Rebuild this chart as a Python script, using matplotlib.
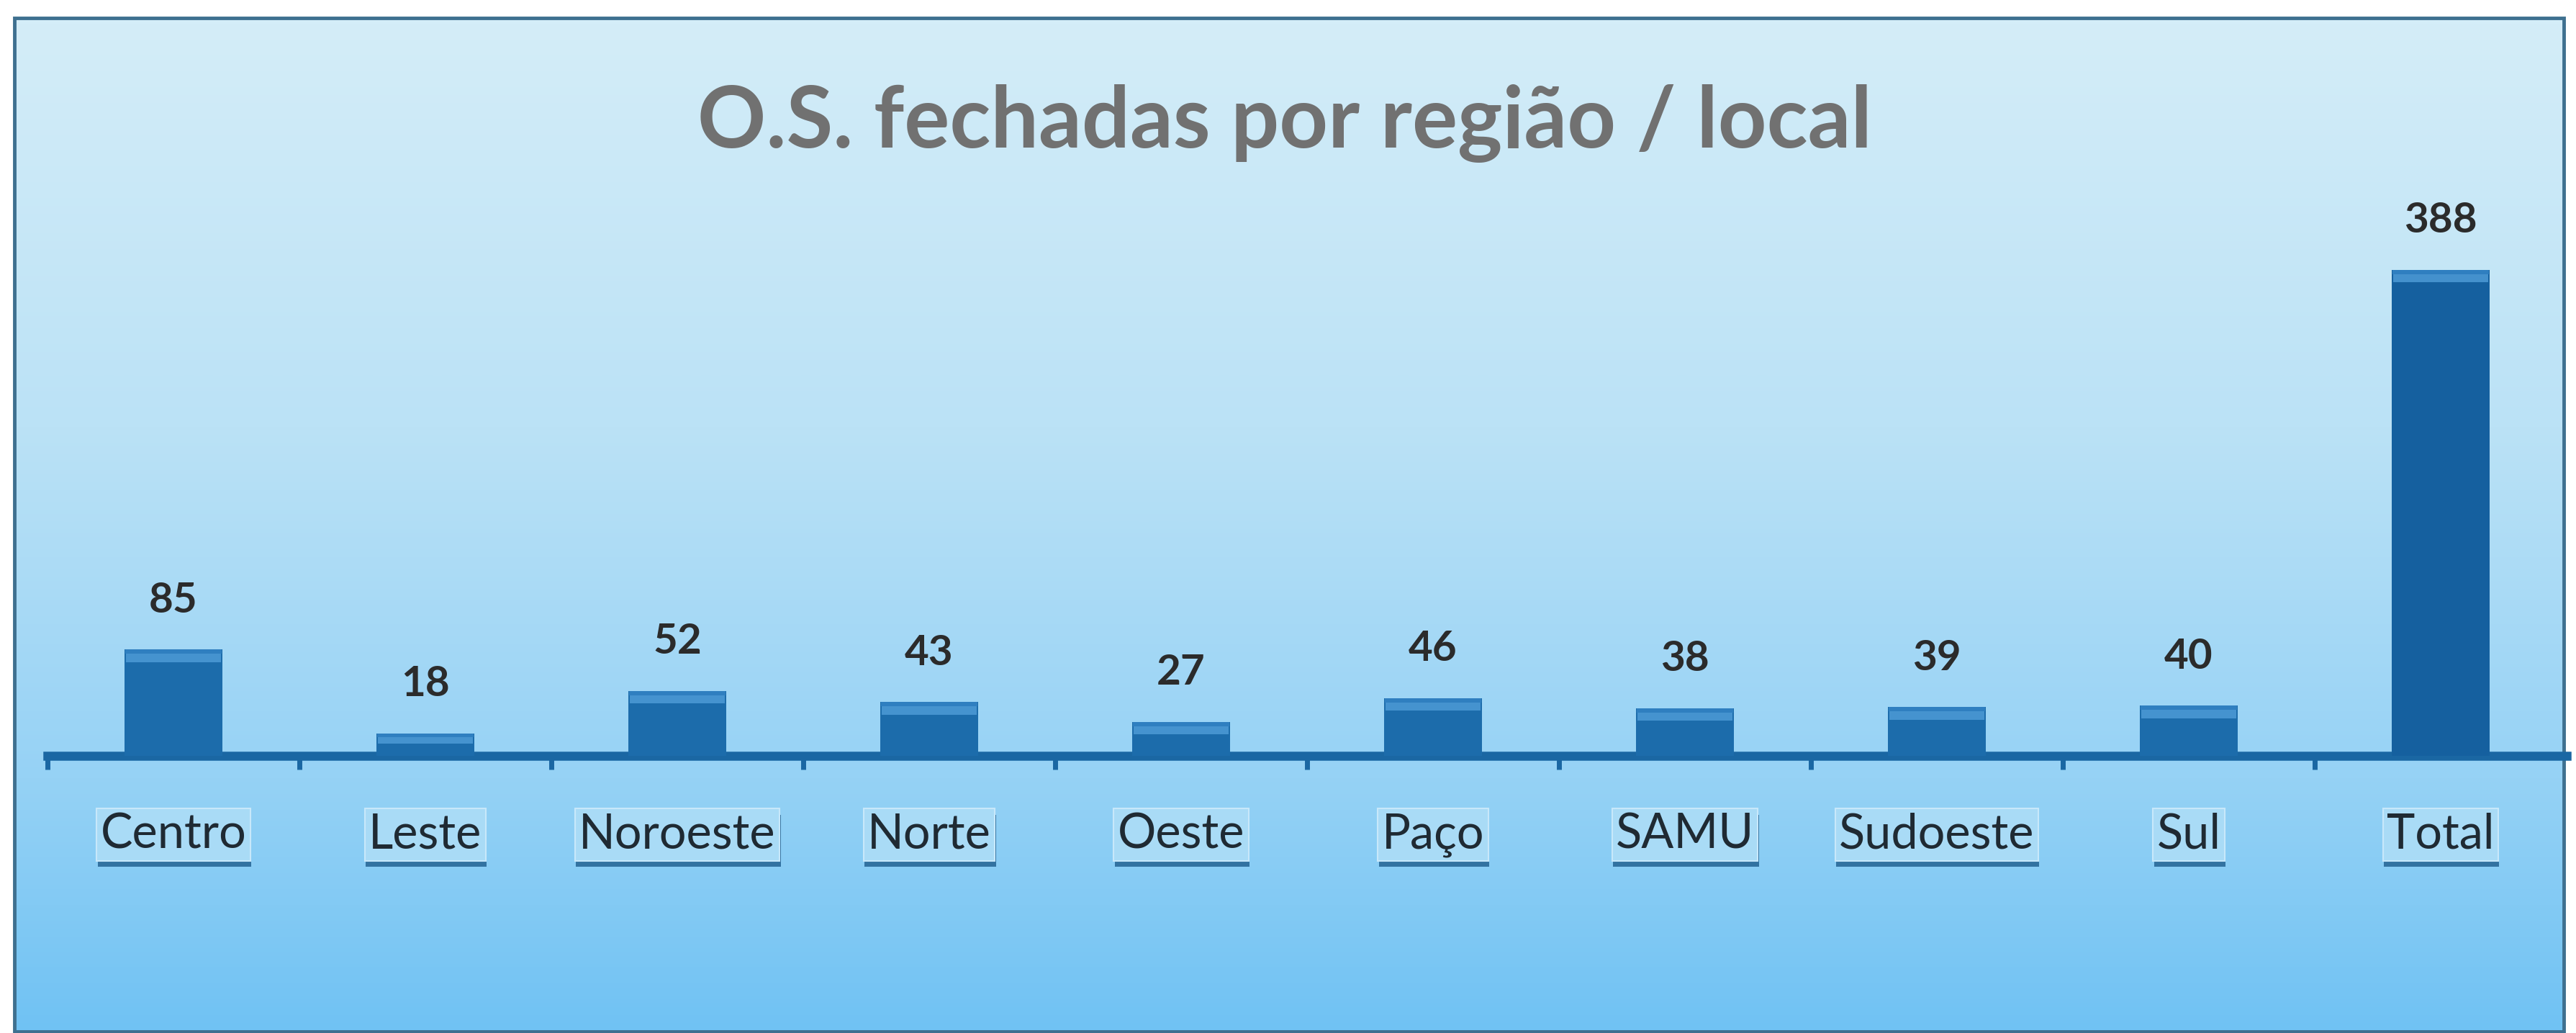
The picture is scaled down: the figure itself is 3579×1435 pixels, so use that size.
import numpy as np
import matplotlib
matplotlib.use("Agg")
import matplotlib.pyplot as plt
from matplotlib.patches import Rectangle
from matplotlib.colors import LinearSegmentedColormap
import matplotlib.patheffects as pe

# ---- data ----
categories = ["Centro", "Leste", "Noroeste", "Norte", "Oeste", "Paço", "SAMU", "Sudoeste", "Sul", "Total"]
values = [85, 18, 52, 43, 27, 46, 38, 39, 40, 388]
title = "O.S. fechadas por região / local"

W, H = 3579, 1435
fig = plt.figure(figsize=(W / 100, H / 100), dpi=100, facecolor="white")

# ---- background panel with vertical gradient ----
bg = fig.add_axes([0, 0, 1, 1], zorder=0)
bg.set_xlim(0, W)
bg.set_ylim(H, 0)
bg.axis("off")
cmap = LinearSegmentedColormap.from_list(
    "bgc", [(0.0, "#d4edf8"), (0.4, "#bbe2f6"), (0.75, "#96d2f5"), (1.0, "#70c2f3")])
grad = np.linspace(0, 1, 256).reshape(-1, 1)
bg.imshow(grad, cmap=cmap, aspect="auto", extent=(20, 3562, 1435, 25), interpolation="bilinear")
bg.add_patch(Rectangle((20, 25), 3542, 1408, fill=False, edgecolor="#3e7090", linewidth=3.5))

# ---- main axes ----
ax = fig.add_axes([66 / W, 385 / H, 3500 / W, 420 * 1.74 / H], zorder=1)
ax.patch.set_alpha(0)
x = np.arange(len(categories))
ax.set_xlim(-0.5, len(categories) - 0.5)
ax.set_ylim(0, 420)

bar_w = 0.39
cols = ["#1c6cab"] * (len(values) - 1) + ["#15609f"]
ax.bar(x, values, width=bar_w, color=cols, zorder=3)
# top bevel highlight
bev = [min(10.0, v * 0.45) for v in values]
ax.bar(x, bev, width=bar_w * 0.96, bottom=[v - b for v, b in zip(values, bev)],
       color="#4d9ad6", zorder=4, alpha=0.85)
ax.bar(x, [b * 0.35 for b in bev], width=bar_w * 0.98,
       bottom=[v - b * 0.35 for v, b in zip(values, bev)], color="#2f7fc0", zorder=5)

for s in ["top", "right", "left"]:
    ax.spines[s].set_visible(False)
ax.spines["bottom"].set_color("#1a67a3")
ax.spines["bottom"].set_linewidth(9)
ax.spines["bottom"].set_zorder(2)
ax.set_yticks([])
ax.set_xticks(np.arange(-0.5, len(categories) - 1, 1.0))
ax.set_xticklabels([])
ax.tick_params(axis="x", direction="out", length=14, width=5, color="#1a67a3")

# value labels
for xi, v in zip(x, values):
    ax.annotate(str(v), (xi, v), xytext=(0, 49), textcoords="offset points",
                ha="center", va="center", fontsize=42, fontweight="bold",
                family=["Lato", "DejaVu Sans"], color="#2b2b2b", zorder=6)

# category labels in boxes
for xi, c in zip(x, categories):
    t = ax.text(xi, -63, c, ha="center", va="center", fontsize=48,
                family=["Lato", "DejaVu Sans"], color="#1f2a33", clip_on=False, zorder=6,
                bbox=dict(boxstyle="square,pad=0.08", facecolor="#a9dbf6",
                          edgecolor="#c8e8fa", linewidth=1.5))
    t.get_bbox_patch().set_path_effects([
        pe.SimplePatchShadow(offset=(1, -6), shadow_rgbFace="#1d5c8c", alpha=0.8),
        pe.Normal()])

# title
fig.text(1785 / W, 1 - 171 / H, title, ha="center", va="center", fontsize=85,
         fontweight="bold", family=["Lato", "DejaVu Sans"], color="#717171", zorder=5)

fig.savefig("out.png", dpi=100, facecolor="white")
